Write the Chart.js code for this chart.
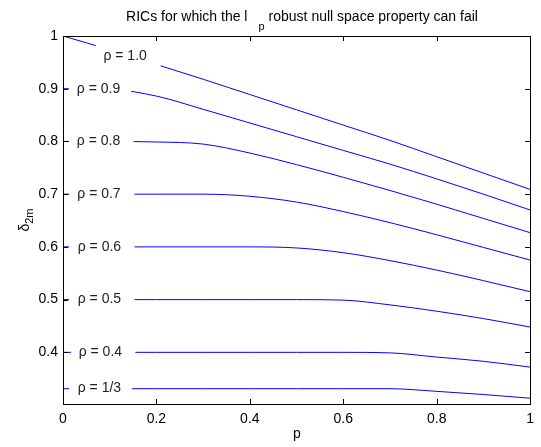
<!DOCTYPE html>
<html>
<head>
<meta charset="utf-8">
<script src="https://cdn.jsdelivr.net/npm/chart.js@4"></script>
<style>
  html, body { margin: 0; padding: 0; background: #fff; }
  #wrap { width: 541px; height: 447px; }
</style>
</head>
<body>
<div id="wrap"><canvas id="ricChart" width="541" height="447"></canvas></div>
<script>
// p の値（横軸）
const pValues = [0, 0.1, 0.2, 0.3, 0.4, 0.5, 0.6, 0.7, 0.8, 0.9, 1.0];

// 各 rho の曲線
const rho10 = [1.000, 0.974, 0.946, 0.918, 0.889, 0.860, 0.831, 0.802, 0.771, 0.740, 0.709];
const rho09 = [0.900, 0.899, 0.886, 0.861, 0.835, 0.809, 0.783, 0.757, 0.729, 0.700, 0.670];
const rho08 = [0.800, 0.800, 0.799, 0.795, 0.778, 0.756, 0.732, 0.707, 0.681, 0.654, 0.627];
const rho07 = [0.700, 0.700, 0.700, 0.700, 0.696, 0.685, 0.667, 0.646, 0.623, 0.599, 0.575];
const rho06 = [0.600, 0.600, 0.600, 0.600, 0.600, 0.598, 0.589, 0.574, 0.556, 0.536, 0.515];
const rho05 = [0.500, 0.500, 0.500, 0.500, 0.500, 0.500, 0.499, 0.490, 0.478, 0.464, 0.448];
const rho04 = [0.400, 0.400, 0.400, 0.400, 0.400, 0.400, 0.400, 0.399, 0.391, 0.383, 0.372];
const rho13 = [0.331, 0.331, 0.331, 0.331, 0.331, 0.331, 0.331, 0.331, 0.326, 0.320, 0.313];

const seriesNames = ["ρ = 1.0", "ρ = 0.9", "ρ = 0.8", "ρ = 0.7", "ρ = 0.6", "ρ = 0.5", "ρ = 0.4", "ρ = 1/3"];
const seriesValues = [rho10, rho09, rho08, rho07, rho06, rho05, rho04, rho13];

// 目盛り
const xTicks = [0, 0.2, 0.4, 0.6, 0.8, 1];
const yTicks = [0.4, 0.5, 0.6, 0.7, 0.8, 0.9, 1];

const FONT = "Liberation Sans, Arial, Helvetica, sans-serif";
const FONT_SIZE = 14;

// ラベル位置（データ座標）: テキスト中心と白い背景の左右端
const labelPlaces = [
  { x: 0.133, y: 0.962, x0: 0.070, x1: 0.209 },
  { x: 0.076, y: 0.900, x0: 0.013, x1: 0.146 },
  { x: 0.076, y: 0.800, x0: 0.013, x1: 0.151 },
  { x: 0.077, y: 0.700, x0: 0.013, x1: 0.153 },
  { x: 0.078, y: 0.600, x0: 0.013, x1: 0.153 },
  { x: 0.078, y: 0.500, x0: 0.013, x1: 0.153 },
  { x: 0.080, y: 0.400, x0: 0.017, x1: 0.155 },
  { x: 0.078, y: 0.333, x0: 0.013, x1: 0.148 },
];

const datasets = seriesValues.map((vals, i) => ({
  label: seriesNames[i],
  data: pValues.map((p, j) => ({ x: p, y: vals[j] })),
  borderColor: "#0000ff",
  borderWidth: 1,
  pointRadius: 0,
  fill: false,
  cubicInterpolationMode: "monotone",
}));

// 曲線上のラベル（白背景で線を隠す）
const curveLabels = {
  id: "curveLabels",
  afterDatasetsDraw(chart) {
    const ctx = chart.ctx;
    const xs = chart.scales.x;
    const ys = chart.scales.y;
    ctx.save();
    ctx.font = FONT_SIZE + "px " + FONT;
    ctx.textAlign = "center";
    ctx.textBaseline = "middle";
    labelPlaces.forEach((lp, i) => {
      const cx = xs.getPixelForValue(lp.x);
      const cy = ys.getPixelForValue(lp.y);
      const left = xs.getPixelForValue(lp.x0);
      const right = xs.getPixelForValue(lp.x1);
      ctx.fillStyle = "#ffffff";
      ctx.fillRect(left, cy - 12, right - left, 24);
      ctx.fillStyle = "#222222";
      ctx.fillText(seriesNames[i], cx, cy);
    });
    ctx.restore();
  },
};

// 枠・内向きの目盛り・タイトル・軸ラベル
const matlabFrame = {
  id: "matlabFrame",
  afterDraw(chart) {
    const ctx = chart.ctx;
    const a = chart.chartArea;
    const xs = chart.scales.x;
    const ys = chart.scales.y;
    const tl = 5;
    ctx.save();
    ctx.strokeStyle = "#000";
    ctx.lineWidth = 1;
    ctx.strokeRect(Math.round(a.left) + 0.5, Math.round(a.top) + 0.5,
      Math.round(a.right - a.left), Math.round(a.bottom - a.top));
    ctx.beginPath();
    xTicks.forEach((v) => {
      const x = Math.round(xs.getPixelForValue(v)) + 0.5;
      ctx.moveTo(x, a.bottom); ctx.lineTo(x, a.bottom - tl);
      ctx.moveTo(x, a.top); ctx.lineTo(x, a.top + tl);
    });
    yTicks.forEach((v) => {
      const y = Math.round(ys.getPixelForValue(v)) + 0.5;
      ctx.moveTo(a.left, y); ctx.lineTo(a.left + tl, y);
      ctx.moveTo(a.right, y); ctx.lineTo(a.right - tl, y);
    });
    ctx.stroke();

    // タイトル（下付き p）
    ctx.fillStyle = "#000";
    ctx.textBaseline = "alphabetic";
    ctx.textAlign = "left";
    const big = FONT_SIZE + "px " + FONT;
    const small = "11px " + FONT;
    const t1 = "RICs for which the l";
    const t2 = "robust null space property can fail";
    ctx.font = big;
    const w1 = ctx.measureText(t1).width;
    const w3 = ctx.measureText(t2).width;
    ctx.font = small;
    const w2 = ctx.measureText("p").width;
    const total = w1 + 11 + w2 + 4 + w3;
    const tx = 302 - total / 2;
    const ty = 21;
    ctx.font = big;
    ctx.fillText(t1, tx, ty);
    ctx.font = small;
    ctx.fillText("p", tx + w1 + 11, ty + 9);
    ctx.font = big;
    ctx.fillText(t2, tx + w1 + 11 + w2 + 4, ty);

    // x 軸ラベル
    ctx.textAlign = "center";
    ctx.fillText("p", 297, 438);

    // y 軸ラベル（δ_2m）
    ctx.translate(29, (a.top + a.bottom) / 2);
    ctx.rotate(-Math.PI / 2);
    ctx.font = big;
    const wd = ctx.measureText("δ").width;
    ctx.font = small;
    const ws = ctx.measureText("2m").width;
    ctx.textAlign = "left";
    ctx.font = big;
    ctx.fillText("δ", -(wd + ws) / 2, 0);
    ctx.font = small;
    ctx.fillText("2m", -(wd + ws) / 2 + wd, 4);
    ctx.restore();
  },
};

const ctx = document.getElementById("ricChart").getContext("2d");
new Chart(ctx, {
  type: "line",
  data: { datasets: datasets },
  options: {
    responsive: false,
    animation: false,
    events: [],
    layout: { padding: { left: 0, top: 36, right: 8, bottom: 0 } },
    plugins: {
      legend: { display: false },
      tooltip: { enabled: false },
      title: { display: false },
    },
    scales: {
      x: {
        type: "linear",
        min: 0,
        max: 1,
        afterBuildTicks: (scale) => { scale.ticks = xTicks.map((v) => ({ value: v })); },
        afterFit: (scale) => { scale.height = 43; },
        grid: { display: false, drawTicks: false },
        border: { display: false },
        ticks: {
          padding: 7,
          color: "#000",
          font: { family: FONT, size: FONT_SIZE },
          maxRotation: 0,
          callback: (v) => String(+Number(v).toFixed(1)),
        },
      },
      y: {
        type: "linear",
        min: 0.302,
        max: 1,
        afterBuildTicks: (scale) => { scale.ticks = yTicks.map((v) => ({ value: v })); },
        afterFit: (scale) => { scale.width = 63; },
        grid: { display: false, drawTicks: false },
        border: { display: false },
        ticks: {
          padding: 5,
          color: "#000",
          font: { family: FONT, size: FONT_SIZE },
          callback: (v) => String(+Number(v).toFixed(1)),
        },
      },
    },
  },
  plugins: [curveLabels, matlabFrame],
});
</script>
</body>
</html>
